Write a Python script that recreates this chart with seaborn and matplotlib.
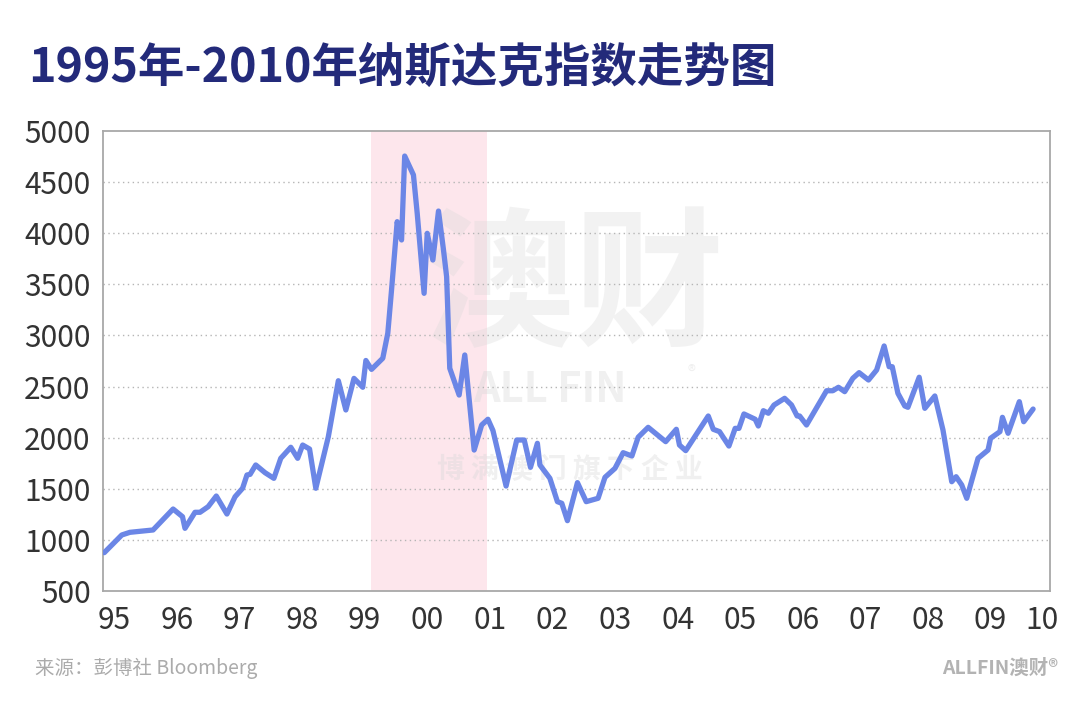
import matplotlib
matplotlib.use("Agg")
import matplotlib.pyplot as plt
import seaborn as sns
import pandas as pd

# data (decimal year, index level)
years = [1995.02, 1995.30, 1995.43, 1995.80, 1996.12, 1996.27, 1996.31, 1996.47, 1996.55, 1996.68,
         1996.81, 1996.98, 1997.11, 1997.23, 1997.30, 1997.35, 1997.44, 1997.59, 1997.73, 1997.84,
         1998.00, 1998.11, 1998.19, 1998.30, 1998.40, 1998.60, 1998.76, 1998.88, 1999.01, 1999.15,
         1999.20, 1999.29, 1999.47, 1999.55, 1999.61, 1999.70, 1999.74, 1999.77, 1999.82, 1999.96,
         2000.02, 2000.13, 2000.18, 2000.27, 2000.36, 2000.44, 2000.49, 2000.54, 2000.69, 2000.78,
         2000.93, 2001.05, 2001.15, 2001.23, 2001.44, 2001.61, 2001.73, 2001.83, 2001.94, 2001.98,
         2002.14, 2002.26, 2002.33, 2002.42, 2002.58, 2002.72, 2002.91, 2003.02, 2003.18, 2003.31,
         2003.45, 2003.55, 2003.71, 2003.99, 2004.16, 2004.21, 2004.31, 2004.67, 2004.75, 2004.85,
         2005.00, 2005.10, 2005.16, 2005.24, 2005.42, 2005.47, 2005.55, 2005.63, 2005.72, 2005.89,
         2006.00, 2006.09, 2006.13, 2006.24, 2006.56, 2006.66, 2006.75, 2006.85, 2006.98, 2007.08,
         2007.23, 2007.36, 2007.48, 2007.56, 2007.61, 2007.70, 2007.81, 2007.86, 2008.04, 2008.13,
         2008.29, 2008.42, 2008.56, 2008.63, 2008.72, 2008.80, 2008.98, 2009.14, 2009.18, 2009.33,
         2009.37, 2009.46, 2009.64, 2009.71, 2009.86]
nasdaq = [875, 1048, 1074, 1097, 1302, 1227, 1113, 1270, 1270, 1325,
          1429, 1253, 1422, 1505, 1635, 1641, 1733, 1657, 1602, 1798,
          1906, 1798, 1928, 1889, 1505, 2009, 2557, 2271, 2580, 2493,
          2755, 2668, 2777, 3021, 3445, 4113, 3999, 3934, 4755, 4570,
          4195, 3412, 3999, 3738, 4217, 3836, 3575, 2679, 2417, 2809,
          1879, 2124, 2180, 2070, 1527, 1977, 1977, 1710, 1945, 1733,
          1602, 1374, 1358, 1188, 1560, 1374, 1407, 1612, 1700, 1853,
          1821, 2004, 2101, 1961, 2082, 1928, 1873, 2212, 2082, 2059,
          1918, 2091, 2091, 2232, 2180, 2114, 2264, 2239, 2319, 2385,
          2320, 2212, 2212, 2124, 2459, 2459, 2493, 2450, 2581, 2636,
          2564, 2662, 2897, 2694, 2694, 2434, 2310, 2297, 2591, 2287,
          2408, 2075, 1569, 1618, 1537, 1407, 1798, 1879, 1994, 2059,
          2199, 2043, 2352, 2156, 2280]

tick_labels = ["95", "96", "97", "98", "99", "00", "01", "02", "03", "04",
               "05", "06", "07", "08", "09", "10"]
highlight = (1999.28, 2001.13)

df = pd.DataFrame({"year": years, "value": nasdaq})

sns.set_theme(style="white")
plt.rcParams['font.family'] = ['Noto Sans CJK SC', 'DejaVu Sans']

fig = plt.figure(figsize=(10.8, 7.08), dpi=100)
ax = fig.add_axes([103/1080, 1-591/708, 947/1080, 460/708])

ax.axvspan(highlight[0], highlight[1], color="#fde6ec", zorder=0, lw=0)

# faint watermark
ax.text(0.498, 0.654, "澳财", transform=ax.transAxes, ha="center", va="center",
        fontsize=108, fontweight="bold", color="#d8d8d8", alpha=0.32, zorder=1)
ax.text(0.472, 0.437, "ALL FIN", transform=ax.transAxes, ha="center", va="center",
        fontsize=30, fontweight="bold", color="#d8d8d8", alpha=0.38, zorder=1)
ax.text(0.622, 0.475, "®", transform=ax.transAxes, ha="center", va="center",
        fontsize=12, color="#d8d8d8", alpha=0.38, zorder=1)
ax.text(0.493, 0.263, "博 满 澳 门 旗 下 企 业", transform=ax.transAxes, ha="center", va="center",
        fontsize=20, fontweight="bold", color="#d8d8d8", alpha=0.38, zorder=1)

sns.lineplot(data=df, x="year", y="value", ax=ax, color="#6b86e6", lw=3.8, zorder=3)

ax.set_xlim(1995, 2010.13)
ax.set_ylim(500, 5000)
ax.set_yticks(range(500, 5001, 500))
ax.set_xticks([1995.18 + i for i in range(15)] + [2010.0])
ax.set_xticklabels(tick_labels)
ax.set_xlabel("")
ax.set_ylabel("")
ax.tick_params(axis="both", length=0, labelsize=21.5, colors="#333333")
ax.tick_params(axis="x", pad=10)
ax.tick_params(axis="y", pad=9)

for y in range(1000, 5000, 500):
    ax.axhline(y, color="#b5b5b5", lw=1, ls=(0, (1, 2.5)), zorder=2)
for s in ax.spines.values():
    s.set_color("#a8a8a8")
    s.set_linewidth(1.3)

fig.text(28/1080, 1-68/708, "1995年-2010年纳斯达克指数走势图", ha="left", va="center",
         fontsize=33.5, fontweight="heavy", color="#232a7a")
fig.text(35/1080, 1-668/708, "来源：彭博社 Bloomberg", ha="left", va="center",
         fontsize=14, color="#ababab")
fig.text(1058/1080, 1-668/708, "ALLFIN澳财®", ha="right", va="center",
         fontsize=14, fontweight="bold", color="#b3b3b3")

fig.savefig("out.png", dpi=100)
